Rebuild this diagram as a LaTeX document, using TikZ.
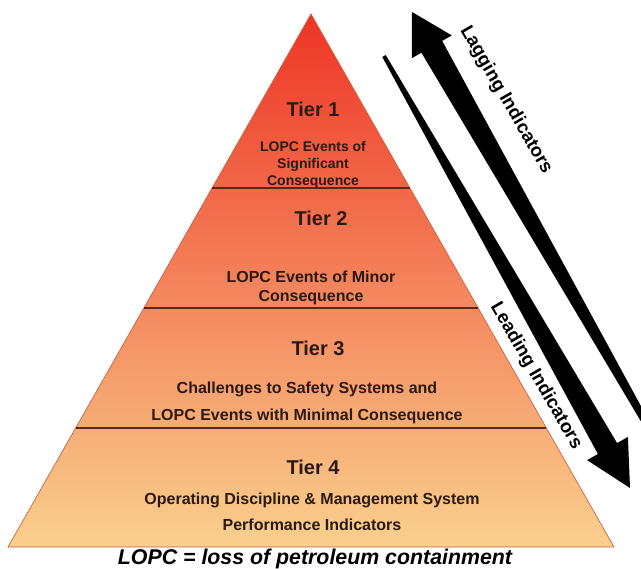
\documentclass[tikz,border=0pt]{standalone}
\usepackage{fontspec}
\setmainfont{Liberation Sans}
\usepackage{tikz}
\usetikzlibrary{calc}
\definecolor{pyrtop}{HTML}{EE3426}
\definecolor{pyrmid}{HTML}{F37E54}
\definecolor{pyrbot}{HTML}{F9D08E}
\definecolor{rule}{HTML}{5A2A18}
\definecolor{edge}{HTML}{C8603A}
\definecolor{ink}{HTML}{2A1A12}

\begin{document}
\begin{tikzpicture}[x=0.75pt, y=-0.75pt,
  tier/.style={text=ink, font=\bfseries\fontsize{15}{18}\selectfont},
  desc/.style={text=ink, align=center, font=\bfseries\fontsize{12}{20}\selectfont},
  split/.style={draw=rule, line width=1.4pt},
  side/.style={text=black, font=\bfseries\fontsize{14}{16}\selectfont, rotate=-60}]
\useasboundingbox (0,0) rectangle (641,568);
\coordinate (apex) at (311,14);
\coordinate (bl) at (8,547);
\coordinate (br) at (614,547);
\shade[top color=pyrtop, middle color=pyrmid, bottom color=pyrbot] (apex) -- (bl) -- (br) -- cycle;
\draw[edge, line width=0.5pt] (apex) -- (bl) -- (br) -- cycle;
\draw[split] ($(apex)!0.3265!(bl)$) -- ($(apex)!0.3265!(br)$);
\draw[split] ($(apex)!0.5516!(bl)$) -- ($(apex)!0.5516!(br)$);
\draw[split] ($(apex)!0.7767!(bl)$) -- ($(apex)!0.7767!(br)$);

\node[tier] (t1) at (313,109) {Tier 1};
\node[desc, font=\bfseries\fontsize{10.5}{12.75}\selectfont] (d1) at (313,165) {LOPC Events of\\Significant\\Consequence};
\node[tier] (t2) at (321,218) {Tier 2};
\node[desc, font=\bfseries\fontsize{12}{14.25}\selectfont] (d2) at (311,288) {LOPC Events of Minor\\Consequence};
\node[tier] (t3) at (318,348) {Tier 3};
\node[desc] (d3) at (307,403) {Challenges to Safety Systems and\\LOPC Events with Minimal Consequence};
\node[tier] (t4) at (313,467) {Tier 4};
\node[desc, font=\bfseries\fontsize{12}{19.5}\selectfont] (d4) at (312,512) {Operating Discipline \& Management System\\Performance Indicators};
\node[text=black, font=\bfseries\itshape\fontsize{16}{18}\selectfont, anchor=base] (note) at (315,564) {LOPC = loss of petroleum containment};

\begin{scope}
\clip (0,0) rectangle (641,568);
\fill[black] (412,12) -- (411.8,58.2) -- (421.4,52.7) -- (646.6,430.9) -- (652.6,427.5) -- (442.2,40.9) -- (451.8,35.4) -- cycle;
\fill[black] (382.3,57) -- (597.9,454) -- (587.1,460.1) -- (630,488) -- (627.9,436.9) -- (617.1,443.1) -- (385.7,55) -- cycle;
\end{scope}
\node[side] (lag) at (506,100) {Lagging Indicators};
\node[side] (lead) at (536,376) {Leading Indicators};
\end{tikzpicture}
\end{document}
